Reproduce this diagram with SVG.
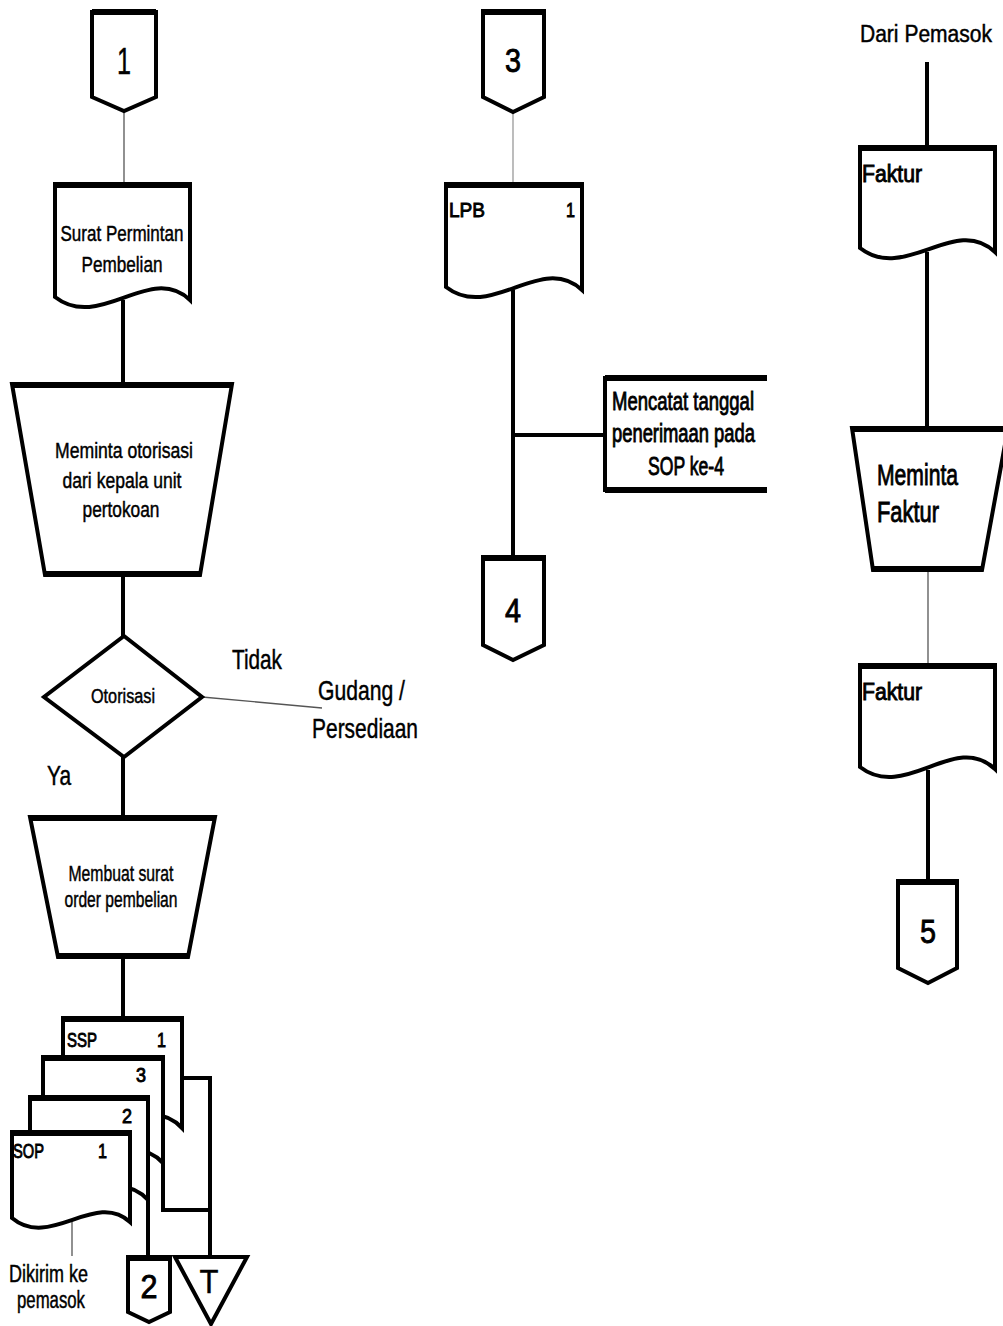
<svg xmlns="http://www.w3.org/2000/svg" width="1003" height="1326" viewBox="0 0 1003 1326">
<style>
.s{fill:#fff;stroke:#000;stroke-width:4;stroke-linejoin:miter}
.top{stroke:#000;stroke-width:6;fill:none}
.ln{stroke:#000;stroke-width:4;fill:none}
.thin{stroke:#555;stroke-width:1.3;fill:none}
text{font-family:"Liberation Sans Narrow","Liberation Sans",Arial,sans-serif;fill:#000;stroke:#000;stroke-width:0.45}
.c{text-anchor:middle}
.b{stroke-width:0.9}
</style>
<rect width="1003" height="1326" fill="#fff"/>
<g id="connectors">
<line class="thin" x1="124" y1="111" x2="124" y2="184"/>
<line class="ln" x1="123" y1="300" x2="123" y2="384"/>
<line class="ln" x1="123" y1="575" x2="123" y2="636"/>
<line class="thin" x1="202" y1="697" x2="322" y2="708"/>
<line class="ln" x1="123" y1="757" x2="123" y2="817"/>
<line class="ln" x1="123" y1="957" x2="123" y2="1018"/>
<polyline class="ln" points="182,1078 210,1078 210,1257"/>
<polyline class="ln" points="163,1160 163,1210 210,1210"/>
<line class="ln" x1="148" y1="1198" x2="148" y2="1257"/>
<line class="thin" x1="72" y1="1222" x2="72" y2="1256"/>
<line x1="513" y1="112" x2="513" y2="184" stroke="#999" stroke-width="1.3"/>
<line class="ln" x1="513" y1="290" x2="513" y2="557"/>
<line class="ln" x1="513" y1="435" x2="605" y2="435"/>
<line class="ln" x1="927" y1="62" x2="927" y2="147"/>
<line class="ln" x1="927" y1="252" x2="927" y2="428"/>
<line class="thin" x1="928" y1="570" x2="928" y2="665"/>
<line class="ln" x1="928" y1="770" x2="928" y2="881"/>
</g>
<g id="conn1">
<path class="s" d="M92,12 H156 V97 L124,111 L92,97 Z"/>
<line class="top" x1="92" y1="12" x2="156" y2="12"/>
<text class="c" x="124" y="74" font-size="36" textLength="14" lengthAdjust="spacingAndGlyphs">1</text>
</g>
<g id="doc-spp">
<path class="s" d="M55,184 H190 V300 C150,262 100,332 55,297 Z"/>
<line class="top" x1="55" y1="185" x2="190" y2="185"/>
<text class="c" x="122" y="241" font-size="22" textLength="123" lengthAdjust="spacingAndGlyphs">Surat Permintan</text>
<text class="c" x="122" y="272" font-size="22" textLength="81" lengthAdjust="spacingAndGlyphs">Pembelian</text>
</g>
<g id="proc-otorisasi">
<polygon class="s" points="12,384 232,384 200,575 45,575"/>
<line class="top" x1="12" y1="385" x2="232" y2="385"/>
<line class="top" x1="45" y1="574" x2="200" y2="574"/>
<text class="c" x="124" y="458" font-size="22" textLength="138" lengthAdjust="spacingAndGlyphs">Meminta otorisasi</text>
<text class="c" x="122" y="488" font-size="22" textLength="119" lengthAdjust="spacingAndGlyphs">dari kepala unit</text>
<text class="c" x="121" y="517" font-size="22" textLength="77" lengthAdjust="spacingAndGlyphs">pertokoan</text>
</g>
<g id="dec-otorisasi">
<polygon class="s" points="124,636 202,697 124,757 44,697"/>
<text class="c" x="123" y="703" font-size="20" textLength="64" lengthAdjust="spacingAndGlyphs">Otorisasi</text>
</g>
<g id="labels">
<text x="232" y="669" font-size="28" textLength="50" lengthAdjust="spacingAndGlyphs">Tidak</text>
<text x="318" y="700" font-size="28" textLength="87" lengthAdjust="spacingAndGlyphs">Gudang /</text>
<text x="312" y="738" font-size="28" textLength="106" lengthAdjust="spacingAndGlyphs">Persediaan</text>
<text x="47" y="785" font-size="28" textLength="24" lengthAdjust="spacingAndGlyphs">Ya</text>
<text x="9" y="1282" font-size="23" textLength="79" lengthAdjust="spacingAndGlyphs">Dikirim ke</text>
<text x="17" y="1308" font-size="23" textLength="68" lengthAdjust="spacingAndGlyphs">pemasok</text>
<text x="860" y="42" font-size="23" textLength="132" lengthAdjust="spacingAndGlyphs">Dari Pemasok</text>
</g>
<g id="proc-sop">
<polygon class="s" points="30,817 215,817 188,957 58,957"/>
<line class="top" x1="30" y1="818" x2="215" y2="818"/>
<line class="top" x1="58" y1="956" x2="188" y2="956"/>
<text class="c" x="121" y="881" font-size="22" textLength="105" lengthAdjust="spacingAndGlyphs">Membuat surat</text>
<text class="c" x="121" y="907" font-size="22" textLength="113" lengthAdjust="spacingAndGlyphs">order pembelian</text>
</g>
<g id="doc-ssp">
<path class="s" d="M63,1018 H182 V1128 C146,1090 102,1150 63,1115 Z"/>
<line class="top" x1="63" y1="1019" x2="182" y2="1019"/>
<text class="b" x="67" y="1047" font-size="20" textLength="30" lengthAdjust="spacingAndGlyphs">SSP</text>
<text class="b" x="157" y="1047" font-size="20" textLength="9" lengthAdjust="spacingAndGlyphs">1</text>
</g>
<g id="doc-sop3">
<path class="s" d="M43,1057 H163 V1163 C127,1125 83,1185 43,1150 Z"/>
<line class="top" x1="43" y1="1058" x2="163" y2="1058"/>
<text class="b" x="136" y="1082" font-size="20" textLength="10" lengthAdjust="spacingAndGlyphs">3</text>
</g>
<g id="doc-sop2">
<path class="s" d="M30,1097 H148 V1200 C113,1162 69,1222 30,1187 Z"/>
<line class="top" x1="30" y1="1098" x2="148" y2="1098"/>
<text class="b" x="122" y="1123" font-size="20" textLength="10" lengthAdjust="spacingAndGlyphs">2</text>
</g>
<g id="doc-sop1">
<path class="s" d="M12,1132 H130 V1222 C95,1190 50,1250 12,1218 Z"/>
<line class="top" x1="12" y1="1133" x2="130" y2="1133"/>
<text class="b" x="13" y="1158" font-size="20" textLength="31" lengthAdjust="spacingAndGlyphs">SOP</text>
<text class="b" x="98" y="1158" font-size="20" textLength="9" lengthAdjust="spacingAndGlyphs">1</text>
</g>
<g id="conn2">
<path class="s" d="M128,1257 H170 V1312 L149,1322 L128,1312 Z"/>
<line class="top" x1="128" y1="1258" x2="170" y2="1258"/>
<text class="c b" x="149" y="1298" font-size="34" textLength="17" lengthAdjust="spacingAndGlyphs">2</text>
</g>
<g id="file-t">
<polygon class="s" points="175,1257 247,1257 211,1324"/>
<text class="c" x="209" y="1293" font-size="34" textLength="19" lengthAdjust="spacingAndGlyphs">T</text>
</g>
<g id="conn3">
<path class="s" d="M483,11 H544 V97 L513,112 L483,97 Z"/>
<line class="top" x1="483" y1="12" x2="544" y2="12"/>
<text class="c b" x="513" y="72" font-size="34" textLength="16" lengthAdjust="spacingAndGlyphs">3</text>
</g>
<g id="doc-lpb">
<path class="s" d="M446,184 H582 V290 C541,252 491,322 446,287 Z"/>
<line class="top" x1="446" y1="185" x2="582" y2="185"/>
<text class="b" x="449" y="217" font-size="21" textLength="36" lengthAdjust="spacingAndGlyphs">LPB</text>
<text class="b" x="566" y="217" font-size="21" textLength="9" lengthAdjust="spacingAndGlyphs">1</text>
</g>
<g id="note-mencatat">
<polyline class="ln" points="767,378 605,378 605,490 767,490"/>
<line class="top" x1="605" y1="378" x2="767" y2="378"/>
<line class="top" x1="605" y1="490" x2="767" y2="490"/>
<text class="b" x="612" y="410" font-size="26" textLength="142" lengthAdjust="spacingAndGlyphs">Mencatat tanggal</text>
<text class="b" x="612" y="442" font-size="26" textLength="143" lengthAdjust="spacingAndGlyphs">penerimaan pada</text>
<text class="b" x="648" y="475" font-size="26" textLength="76" lengthAdjust="spacingAndGlyphs">SOP ke-4</text>
</g>
<g id="conn4">
<path class="s" d="M483,557 H544 V645 L513,660 L483,645 Z"/>
<line class="top" x1="483" y1="558" x2="544" y2="558"/>
<text class="c b" x="513" y="622" font-size="34" textLength="16" lengthAdjust="spacingAndGlyphs">4</text>
</g>
<g id="doc-faktur1">
<path class="s" d="M860,147 H995 V252 C955,214 905,283 860,248 Z"/>
<line class="top" x1="860" y1="148" x2="995" y2="148"/>
<text class="b" x="862" y="182" font-size="23" textLength="60" lengthAdjust="spacingAndGlyphs">Faktur</text>
</g>
<g id="proc-faktur">
<polygon class="s" points="852,428 1008,428 982,570 873,570"/>
<line class="top" x1="852" y1="429" x2="1008" y2="429"/>
<line class="top" x1="873" y1="569" x2="982" y2="569"/>
<text class="b" x="877" y="485" font-size="30" textLength="81" lengthAdjust="spacingAndGlyphs">Meminta</text>
<text class="b" x="877" y="522" font-size="30" textLength="62" lengthAdjust="spacingAndGlyphs">Faktur</text>
</g>
<g id="doc-faktur2">
<path class="s" d="M860,665 H995 V769 C955,731 905,802 860,767 Z"/>
<line class="top" x1="860" y1="666" x2="995" y2="666"/>
<text class="b" x="862" y="700" font-size="23" textLength="60" lengthAdjust="spacingAndGlyphs">Faktur</text>
</g>
<g id="conn5">
<path class="s" d="M898,881 H957 V968 L928,983 L898,968 Z"/>
<line class="top" x1="898" y1="882" x2="957" y2="882"/>
<text class="c b" x="928" y="943" font-size="34" textLength="16" lengthAdjust="spacingAndGlyphs">5</text>
</g>
</svg>
